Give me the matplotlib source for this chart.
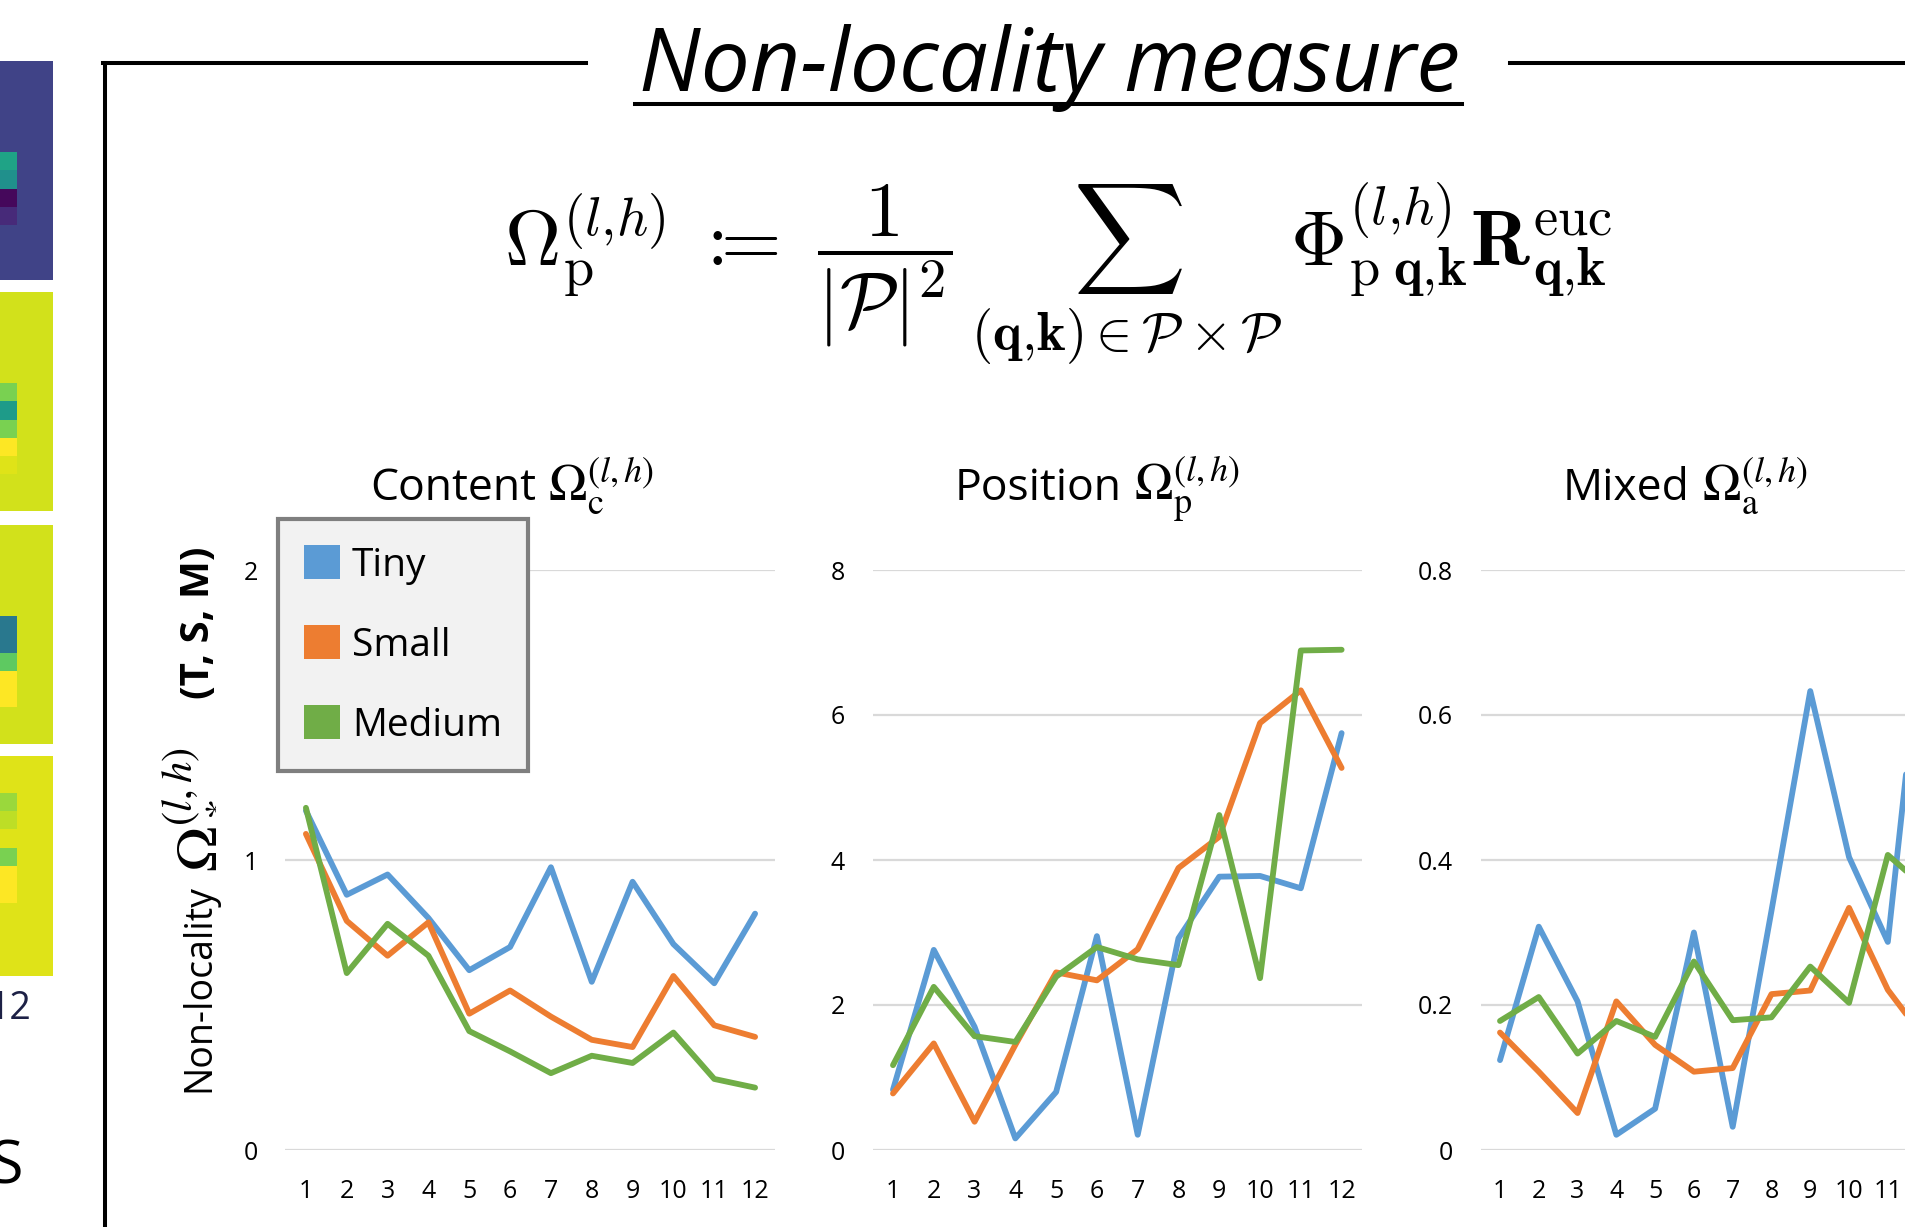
import matplotlib.pyplot as plt
import numpy as np
from matplotlib.lines import Line2D
from matplotlib.patches import Patch

plt.rcParams['font.family'] = ['Open Sans', 'DejaVu Sans']

layers = list(range(1, 13))
model_names = ['Tiny', 'Small', 'Medium']
model_colors = ['#5B9BD5', '#ED7D31', '#70AD47']

content_tiny = [1.17, 0.88, 0.95, 0.80, 0.62, 0.70, 0.975, 0.58, 0.925, 0.71, 0.575, 0.815]
content_small = [1.09, 0.79, 0.67, 0.785, 0.47, 0.55, 0.46, 0.38, 0.355, 0.60, 0.43, 0.39]
content_medium = [1.18, 0.61, 0.78, 0.67, 0.41, 0.34, 0.265, 0.325, 0.30, 0.405, 0.245, 0.215]

position_tiny = [0.83, 2.76, 1.70, 0.16, 0.80, 2.95, 0.21, 2.92, 3.77, 3.78, 3.61, 5.75]
position_small = [0.78, 1.47, 0.39, 1.45, 2.45, 2.34, 2.77, 3.89, 4.32, 5.89, 6.34, 5.27]
position_medium = [1.17, 2.25, 1.57, 1.49, 2.39, 2.80, 2.63, 2.55, 4.62, 2.37, 6.89, 6.90]

mixed_tiny = [0.124, 0.308, 0.205, 0.021, 0.057, 0.30, 0.032, 0.33, 0.633, 0.404, 0.287, 0.78]
mixed_small = [0.162, 0.108, 0.051, 0.205, 0.145, 0.108, 0.113, 0.215, 0.220, 0.334, 0.221, 0.15]
mixed_medium = [0.178, 0.211, 0.133, 0.178, 0.156, 0.26, 0.179, 0.183, 0.253, 0.203, 0.407, 0.36]

content_ticks = [0, 1, 2]
position_ticks = [0, 2, 4, 6, 8]
mixed_ticks = [0, 0.2, 0.4, 0.6, 0.8]
mixed_ticklabels = ['0', '0.2', '0.4', '0.6', '0.8']

panel_words = ['Content', 'Position', 'Mixed']
panel_symbols = [r'$\Omega_{\mathrm{c}}^{(l,h)}$', r'$\Omega_{\mathrm{p}}^{(l,h)}$',
                 r'$\Omega_{\mathrm{a}}^{(l,h)}$']

# first column of each attention-map strip (rest of the strip is flat)
map_edge_cols = [
    [0.2, 0.2, 0.2, 0.2, 0.2, 0.58, 0.5, 0.02, 0.12, 0.2, 0.2, 0.2],
    [0.93, 0.93, 0.93, 0.93, 0.93, 0.8, 0.55, 0.8, 1.0, 0.95, 0.93, 0.93],
    [0.93, 0.93, 0.93, 0.93, 0.93, 0.4, 0.4, 0.75, 1.0, 1.0, 0.93, 0.93],
    [0.95, 0.95, 0.85, 0.9, 0.95, 0.8, 1.0, 1.0, 0.95, 0.95, 0.95, 0.95],
]
map_base = [0.2, 0.93, 0.93, 0.95]

W, H = 1906, 1227
fig = plt.figure(figsize=(W / 100, H / 100), dpi=100)


def fx(x):
    return x / W


def fy(y):
    return 1 - y / H


# cropped attention maps on the left edge
map_rows = [(61, 280), (292, 511), (525, 744), (756, 976)]
for (top, bot), col, base in zip(map_rows, map_edge_cols, map_base):
    hax = fig.add_axes([fx(-1), fy(bot), fx(54), (bot - top) / H])
    grid = np.column_stack([col, [base] * 12, [base] * 12])
    hax.imshow(grid, cmap='viridis', vmin=0, vmax=1, aspect='auto',
               interpolation='nearest')
    hax.set_axis_off()
fig.text(fx(31), fy(1009), '12', ha='right', va='center', fontsize=27,
         color='#1d2146')
fig.text(fx(23), fy(1168), 'S', ha='right', va='center', fontsize=44)

# box frame around the section
lw_frame = 2.9
fig.add_artist(Line2D([fx(105), fx(105)], [fy(63), fy(1240)], color='black',
                      lw=lw_frame, transform=fig.transFigure))
fig.add_artist(Line2D([fx(103), fx(586)], [fy(63), fy(63)], color='black',
                      lw=lw_frame, transform=fig.transFigure))
fig.add_artist(Line2D([fx(1510), fx(1910)], [fy(63), fy(63)], color='black',
                      lw=lw_frame, transform=fig.transFigure))

fig.text(fx(1050), fy(91), 'Non-locality measure', ha='center', va='baseline',
         fontsize=63, style='italic')
fig.add_artist(Line2D([fx(635), fx(1462)], [fy(104), fy(104)], color='black',
                      lw=2.9, transform=fig.transFigure))

formula = (r'$\Omega_{\mathrm{p}}^{(l{,}h)}\;{:}\!\!\!={\ }\dfrac{1}{|\mathcal{P}|^2}\,'
           r'\sum_{(\mathbf{q}{,}\mathbf{k})\in\mathcal{P}\times\mathcal{P}}\,'
           r'\Phi_{\mathrm{p}\;\mathbf{q}{,}\mathbf{k}}^{(l{,}h)}'
           r'\mathbf{R}_{\mathbf{q}{,}\mathbf{k}}^{\mathrm{euc}}$')
fig.text(fx(1058), fy(274), formula, ha='center', va='center', fontsize=56,
         math_fontfamily='cm')

panels = [
    (285.5, 775.5, [content_tiny, content_small, content_medium], 2,
     content_ticks, None, 536),
    (872.6, 1362.0, [position_tiny, position_small, position_medium], 8,
     position_ticks, None, 1122),
    (1480.6, 1946, [mixed_tiny, mixed_small, mixed_medium], 0.8,
     mixed_ticks, mixed_ticklabels, 1690),
]

axes = []
for i, (left, right, series, top, ticks, ticklabels, split) in enumerate(panels):
    ax = fig.add_axes([fx(left), fy(1150), (right - left) / W, 580 / H])
    for vals, color in zip(series, model_colors):
        ax.plot(layers, vals, color=color, lw=4.2, solid_joinstyle='round',
                solid_capstyle='round', zorder=3)
    ax.set_xlim(0.5, 12.5)
    ax.set_ylim(0, top)
    ax.set_xticks(layers)
    ax.set_yticks(ticks)
    if ticklabels:
        ax.set_yticklabels(ticklabels)
    ax.grid(axis='y', color='#d9d9d9', lw=1.6, zorder=0)
    for s in ax.spines.values():
        s.set_visible(False)
    ax.tick_params(length=0, labelsize=18)
    ax.tick_params(axis='x', pad=21)
    ax.tick_params(axis='y', pad=20)
    # panel title: plain word followed by a larger symbol
    fig.text(fx(split), fy(500), panel_words[i], ha='right', va='baseline',
             fontsize=32)
    fig.text(fx(split + 12), fy(500), panel_symbols[i], ha='left',
             va='baseline', fontsize=37, math_fontfamily='stix')
    axes.append(ax)

fig.text(fx(209), fy(1092), 'Non-locality', rotation=90,
         rotation_mode='anchor', ha='left', va='baseline', fontsize=27)
fig.text(fx(209), fy(872), r'$\Omega_*^{(l,h)}$', rotation=90,
         rotation_mode='anchor', ha='left', va='baseline', fontsize=44,
         math_fontfamily='stix')
fig.text(fx(209), fy(623), '(T, S, M)', rotation=90, rotation_mode='anchor',
         ha='center', va='baseline', fontsize=29, fontweight='bold')

handles = [Patch(facecolor=c, edgecolor='none') for c in model_colors]
leg = fig.legend(handles, model_names, loc='upper left',
                 bbox_to_anchor=(fx(278), fy(519)), borderaxespad=0,
                 fontsize=28, frameon=True, fancybox=False,
                 facecolor='#f2f2f2', edgecolor='#7f7f7f', framealpha=1,
                 handlelength=0.92, handleheight=0.95, handletextpad=0.3,
                 labelspacing=1.05, borderpad=0.68)
leg.get_frame().set_linewidth(3)

fig.savefig('out.png', dpi=100)
